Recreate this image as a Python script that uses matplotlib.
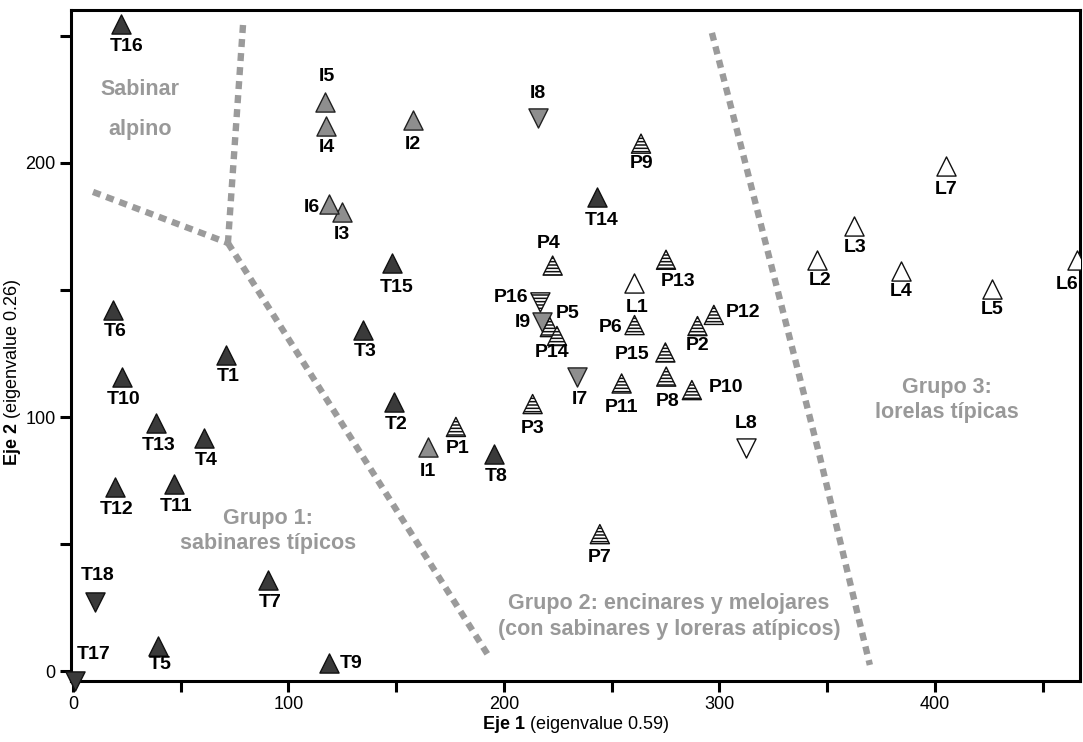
import matplotlib
matplotlib.use("Agg")
import matplotlib.pyplot as plt
from matplotlib.ticker import FixedLocator

plt.rcParams['font.family'] = ['Liberation Sans', 'DejaVu Sans']
plt.rcParams['mathtext.fontset'] = 'custom'
plt.rcParams['mathtext.rm'] = 'Liberation Sans'
plt.rcParams['mathtext.bf'] = 'Liberation Sans:bold'
plt.rcParams['hatch.linewidth'] = 1.1

# ---------------- data ----------------
t_names = ["T1", "T2", "T3", "T4", "T5", "T6", "T7", "T8", "T9", "T10",
           "T11", "T12", "T13", "T14", "T15", "T16", "T17", "T18"]
t_x = [71.0, 149.2, 134.7, 60.7, 39.4, 18.6, 90.4, 195.4, 118.7, 22.7,
       46.8, 19.3, 38.6, 243.4, 147.9, 22.3, 1.1, 10.1]
t_y = [124.6, 105.9, 134.4, 91.6, 10.0, 142.2, 35.8, 85.4, 3.1, 115.7,
       73.6, 72.4, 97.5, 186.6, 160.6, 254.7, -3.8, 27.2]

i_names = ["I1", "I2", "I3", "I4", "I5", "I6", "I7", "I8", "I9"]
i_x = [164.7, 157.9, 124.8, 117.4, 116.9, 118.8, 234.1, 215.8, 217.6]
i_y = [88.0, 216.8, 180.8, 214.4, 224.0, 183.9, 115.6, 217.6, 137.4]

p_names = ["P1", "P2", "P3", "P4", "P5", "P6", "P7", "P8", "P9", "P10",
           "P11", "P12", "P13", "P14", "P15", "P16"]
p_x = [177.7, 289.8, 213.3, 222.6, 221.3, 260.6, 244.5, 275.3, 263.6, 287.2,
       254.6, 297.4, 275.2, 224.6, 274.9, 216.9]
p_y = [96.1, 135.8, 105.1, 159.6, 135.4, 136.2, 53.9, 115.9, 207.6, 110.6,
       113.2, 140.2, 161.9, 131.9, 125.4, 145.1]

l_names = ["L1", "L2", "L3", "L4", "L5", "L6", "L7", "L8"]
l_x = [260.3, 345.2, 362.3, 384.2, 426.5, 466.0, 405.2, 312.4]
l_y = [152.8, 161.8, 175.1, 157.6, 150.4, 161.8, 198.7, 87.8]

# samples drawn with a downward triangle
down_pointing = ["T17", "T18", "I7", "I8", "I9", "P16", "L8"]

# group boundaries (dotted lines)
line_a_x = [9.3, 71.9]
line_a_y = [188.6, 168.5]
line_b_x = [78.9, 71.9]
line_b_y = [254.3, 168.5]
line_c_x = [71.9, 193.5]
line_c_y = [168.5, 5.1]
line_d_x = [296.5, 308.1, 346.6, 369.8]
line_d_y = [251.2, 213.0, 84.3, 2.4]

x_tick_labels = ["0", "100", "200", "300", "400"]
y_tick_labels = ["0", "100", "200"]

# ---------------- layout / style ----------------
# label offsets in pixels (dx right, dy down) relative to the marker
default_off = (2, 22)
label_off = {
    "T5": (2, 19), "T9": (22, 0), "T14": (4, 24), "T15": (5, 24), "T16": (6, 23),
    "T17": (18, -26), "T18": (3, -26),
    "I1": (0, 24), "I2": (0, 24), "I3": (0, 23), "I4": (1, 21), "I5": (2, -25),
    "I6": (-17, 4), "I8": (0, -25), "I9": (-19, 1),
    "P2": (0, 19), "P3": (0, 24), "P4": (-4, -22), "P5": (18, -14), "P6": (-24, 2),
    "P7": (0, 23), "P8": (1, 25), "P9": (1, 20), "P10": (34, -3), "P11": (0, 24),
    "P12": (29, -2), "P13": (12, 22), "P14": (-5, 17), "P15": (-33, 2), "P16": (-29, -5),
    "L1": (3, 25), "L2": (3, 20), "L3": (1, 21), "L4": (0, 21), "L5": (0, 21),
    "L6": (-10, 24), "L7": (0, 23), "L8": (0, -25),
}

fig = plt.figure(figsize=(10.83, 7.42), dpi=100)
ax = fig.add_axes([0.0656, 0.0826, 0.9316, 0.9039])
ax.set_xlim(-0.9, 467.3)
ax.set_ylim(-3.8, 260.2)

gray_line = dict(color="#9b9b9b", lw=4.6, linestyle=(0, (1.25, 0.95)),
                 dash_capstyle="butt", solid_capstyle="butt", zorder=1)
for lx, ly in [(line_a_x, line_a_y), (line_b_x, line_b_y),
               (line_c_x, line_c_y), (line_d_x, line_d_y)]:
    ax.plot(lx, ly, **gray_line)

ms = 190
groups = [
    (t_names, t_x, t_y, dict(facecolor="#3a3a3a", edgecolor="#111111", hatch=None)),
    (i_names, i_x, i_y, dict(facecolor="#8e8e8e", edgecolor="#222222", hatch=None)),
    (p_names, p_x, p_y, dict(facecolor="white", edgecolor="#111111", hatch="-----")),
    (l_names, l_x, l_y, dict(facecolor="white", edgecolor="#111111", hatch=None)),
]
for names, xs, ys, st in groups:
    for n, x, y in zip(names, xs, ys):
        mk = "v" if n in down_pointing else "^"
        ax.scatter([x], [y], s=ms, marker=mk, facecolor=st["facecolor"],
                   edgecolor=st["edgecolor"], hatch=st["hatch"], linewidths=1.0,
                   zorder=3, clip_on=(n != "T17"))
        dx, dy = label_off.get(n, default_off)
        ax.annotate(n, (x, y), xytext=(dx, -dy), textcoords="offset pixels",
                    ha="center", va="center", fontsize=14, fontweight="bold",
                    color="black", zorder=4, annotation_clip=False)

gtxt = dict(color="#999999", fontsize=15.5, fontweight="bold", ha="center", va="center", zorder=2)
ax.text(31.0, 228.9, "Sabinar", **gtxt)
ax.text(31.0, 213.0, "alpino", **gtxt)
ax.text(90.5, 60.2, "Grupo 1:", **gtxt)
ax.text(90.5, 50.4, "sabinares típicos", **gtxt)
ax.text(276.6, 26.4, "Grupo 2: encinares y melojares", **gtxt)
ax.text(276.6, 16.3, "(con sabinares y loreras atípicos)", **gtxt)
ax.text(405.6, 111.8, "Grupo 3:", **gtxt)
ax.text(405.6, 101.6, "lorelas típicas", **gtxt)

for sp in ax.spines.values():
    sp.set_linewidth(2.2)
    sp.set_color("black")

ax.xaxis.set_major_locator(FixedLocator([0, 100, 200, 300, 400]))
ax.set_xticklabels(x_tick_labels)
ax.xaxis.set_minor_locator(FixedLocator([50, 150, 250, 350, 450]))
ax.yaxis.set_major_locator(FixedLocator([0, 100, 200]))
ax.set_yticklabels(y_tick_labels)
ax.yaxis.set_minor_locator(FixedLocator([50, 150, 250]))
ax.tick_params(axis="both", which="both", direction="out", length=8, width=2.2,
               color="black")
ax.tick_params(axis="both", which="major", labelsize=13, pad=3)

ax.set_xlabel(r"$\mathbf{Eje\ 1}$ (eigenvalue 0.59)", fontsize=13, labelpad=1)
ax.set_ylabel(r"$\mathbf{Eje\ 2}$ (eigenvalue 0.26)", fontsize=13)
ax.yaxis.set_label_coords(-0.048, 0.46)

fig.savefig("out.png", dpi=100)
